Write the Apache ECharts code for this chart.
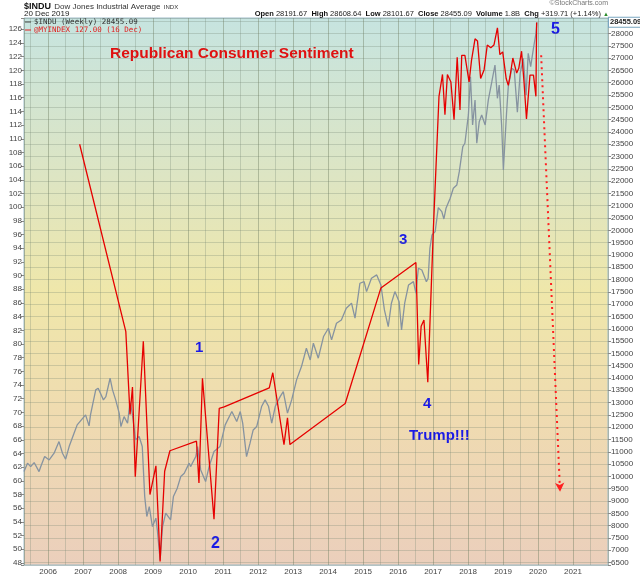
<!DOCTYPE html>
<html><head><meta charset="utf-8">
<script src="https://cdn.jsdelivr.net/npm/echarts@6/dist/echarts.min.js"></script>
<style>html,body{margin:0;padding:0;background:#fff}#c{width:640px;height:576px}</style>
</head><body><div id="c"></div>
<script>
// DJIA weekly (approximate readings), decimal years
const djiaDates = [2005.31,2005.41,2005.50,2005.60,2005.74,2005.79,2005.90,2006.03,2006.17,2006.31,2006.41,2006.50,2006.60,2006.74,2006.83,2007.07,2007.17,2007.21,2007.36,2007.43,2007.58,2007.65,2007.77,2007.84,2007.93,2008.03,2008.08,2008.17,2008.27,2008.34,2008.41,2008.50,2008.60,2008.69,2008.76,2008.82,2008.89,2008.98,2009.08,2009.12,2009.20,2009.27,2009.36,2009.50,2009.58,2009.69,2009.79,2009.89,2010.03,2010.07,2010.22,2010.27,2010.36,2010.50,2010.60,2010.74,2010.91,2011.06,2011.25,2011.39,2011.49,2011.56,2011.67,2011.77,2011.86,2011.96,2012.10,2012.20,2012.30,2012.39,2012.49,2012.63,2012.72,2012.84,2012.96,2013.10,2013.24,2013.38,2013.49,2013.58,2013.72,2013.87,2014.01,2014.10,2014.24,2014.38,2014.52,2014.67,2014.77,2014.91,2015.03,2015.10,2015.24,2015.39,2015.51,2015.61,2015.72,2015.81,2015.91,2016.03,2016.10,2016.19,2016.30,2016.44,2016.51,2016.58,2016.68,2016.81,2016.86,2016.91,2016.97,2017.06,2017.15,2017.25,2017.31,2017.37,2017.49,2017.58,2017.68,2017.75,2017.85,2017.91,2018.01,2018.07,2018.13,2018.20,2018.25,2018.32,2018.39,2018.49,2018.58,2018.68,2018.77,2018.84,2018.89,2018.96,2019.01,2019.10,2019.15,2019.25,2019.32,2019.41,2019.49,2019.58,2019.66,2019.72,2019.79,2019.87,2019.94,2019.97];
const djiaClose = [10197,10540,10400,10563,10197,10400,10807,10670,10943,11415,10943,10700,11213,11757,12094,12500,12054,12500,13516,13584,13110,13244,13990,13516,13110,12570,12026,12431,12163,13040,12500,11485,11620,11213,9180,8370,8775,7963,8305,7830,6610,7963,8508,8235,9180,9523,9995,10130,10540,10400,10807,11213,10265,9790,10400,11010,11213,12094,12635,12229,12635,12163,10807,11350,11890,12026,12840,13110,12840,12163,12840,13244,13448,12570,13110,13923,14463,15210,14734,15413,14804,15685,16023,15548,16226,16360,16836,17040,16430,17850,17915,17510,18055,18190,17780,16766,16090,17040,17510,17100,15955,17040,17780,17915,17445,18460,18390,17915,18055,19273,19813,19948,20923,20760,20463,20897,21305,21711,21845,22386,23400,23540,24690,26245,24283,25300,23540,24417,24690,24283,25300,26042,26720,25367,25908,24283,22455,24758,25839,26586,26517,24800,26383,26993,25500,27195,26650,27400,28000,28455.09];
// Republican consumer sentiment (approximate readings)
const sentDates = [2006.90,2008.22,2008.34,2008.41,2008.49,2008.72,2008.91,2009.08,2009.20,2009.33,2009.48,2010.24,2010.31,2010.41,2010.74,2010.89,2011.03,2012.32,2012.42,2012.74,2012.84,2012.91,2014.49,2015.51,2016.51,2016.59,2016.66,2016.74,2016.85,2017.01,2017.17,2017.27,2017.34,2017.41,2017.51,2017.60,2017.69,2017.77,2017.82,2017.91,2018.03,2018.10,2018.20,2018.27,2018.36,2018.46,2018.55,2018.65,2018.74,2018.84,2018.91,2018.99,2019.09,2019.15,2019.20,2019.28,2019.39,2019.45,2019.53,2019.60,2019.67,2019.77,2019.87,2019.94,2019.96];
const sentValues = [109.2,81.8,69.7,73.7,60.6,80.4,58.0,62.2,48.2,61.4,64.4,65.8,59.7,75.0,54.4,70.6,70.8,73.6,75.8,65.3,69.2,65.3,71.3,88.2,91.9,77.0,82.6,83.5,74.4,96.9,116.2,119.4,113.5,119.4,118.3,112.8,121.9,114.2,122.2,122.2,118.3,121.5,124.6,124.3,118.8,120.1,123.7,123.3,123.7,126.2,122.3,122.7,118.8,117.8,119.1,121.8,119.6,120.3,122.8,118.3,112.9,119.3,119.3,116.2,127.0];
// projected drop arrow (sentiment units)
const arrowFrom = [2020.09, 122.2];
const arrowTo = [2020.63, 58.4];
const yearLabels = [2006,2007,2008,2009,2010,2011,2012,2013,2014,2015,2016,2017,2018,2019,2020,2021];
const lastClose = 28455.09;

const djiaName = '$INDU (Weekly) 28455.09';
const sentName = '@MYINDEX 127.00 (16 Dec)';

const chart = echarts.init(document.getElementById('c'));
const axisFont = {fontSize: 8, color: '#444', fontFamily: 'Liberation Sans'};
const gridCol = 'rgba(110,130,110,0.28)';

chart.setOption({
  animation: false,
  backgroundColor: '#fff',
  grid: {
    left: 24, right: 32, top: 18, bottom: 11, show: true,
    borderColor: '#9fbccb', borderWidth: 1,
    backgroundColor: new echarts.graphic.LinearGradient(0, 0, 0, 1, [
      {offset: 0, color: '#c6e4e0'},
      {offset: 0.3, color: '#dee5c2'},
      {offset: 0.5, color: '#efe7aa'},
      {offset: 0.75, color: '#efdab1'},
      {offset: 1, color: '#ebcfbc'}
    ])
  },
  legend: {
    orient: 'vertical', left: 25, top: 18, padding: 0, itemWidth: 6, itemHeight: 1, itemGap: 0,
    icon: 'rect', selectedMode: false,
    textStyle: {fontSize: 7.5, lineHeight: 7, fontFamily: 'DejaVu Sans Mono', color: '#333', padding: [0,0,0,-2]},
    data: [{name: djiaName, itemStyle:{color:'#444'}}, {name: sentName, textStyle: {color: '#e02020'}, itemStyle:{color:'#e02020'}}]
  },
  xAxis: {
    type: 'value', min: 2005.31, max: 2022, minInterval: 1, maxInterval: 1, splitNumber: 17,
    axisLine: {show: false}, axisTick: {show: false},
    axisLabel: Object.assign({margin: 3, formatter: v => yearLabels.indexOf(v) >= 0 ? String(v) : ''}, axisFont),
    splitLine: {show: true, lineStyle: {color: 'rgba(110,125,95,0.42)', width: 1}},
    minorTick: {show: false, splitNumber: 2},
    minorSplitLine: {show: true, lineStyle: {color: gridCol, width: 1}}
  },
  yAxis: [
    {
      type: 'value', min: 47.7, max: 127.65, minInterval: 2, maxInterval: 2, splitNumber: 40, position: 'left',
      axisLine: {show: false}, axisTick: {show: true, length: 3, lineStyle: {color: '#888'}},
      axisLabel: Object.assign({margin: 2, formatter: v => (Math.abs(v % 2) < 1e-6 ? String(v) : '')}, axisFont),
      splitLine: {show: false}
    },
    {
      type: 'value', min: 6400, max: 28630, minInterval: 500, maxInterval: 500, splitNumber: 44, position: 'right',
      axisLine: {show: false}, axisTick: {show: true, length: 3, lineStyle: {color: '#888'}},
      axisLabel: Object.assign({margin: 3, formatter: v => (v % 500 === 0 && v < 28500 ? String(v) : '')}, axisFont),
      splitLine: {show: true, lineStyle: {color: gridCol}}
    }
  ],
  series: [
    {
      name: djiaName, type: 'line', yAxisIndex: 1, symbol: 'none',
      data: djiaDates.map((d, i) => [d, djiaClose[i]]),
      lineStyle: {color: '#8693a0', width: 1.3}, itemStyle: {color: '#444'}, z: 2,
      markLine: {
        silent: true, symbol: 'none', lineStyle: {color: 'rgba(0,0,0,0)', width: 0},
        label: {show: true, position: 'end', distance: 1, formatter: () => lastClose.toFixed(2),
          fontSize: 7.5, fontWeight: 'bold', color: '#222', backgroundColor: '#fff', borderColor: '#7aa6c0', borderWidth: 1,
          padding: [1, 1, 0, 1], fontFamily: 'Liberation Sans'},
        data: [{yAxis: lastClose}]
      }
    },
    {
      name: sentName, type: 'line', yAxisIndex: 0, symbol: 'none',
      data: sentDates.map((d, i) => [d, sentValues[i]]),
      lineStyle: {color: '#e60000', width: 1.3}, itemStyle: {color: '#e02020'}, z: 3,
      markLine: {
        silent: true, symbol: ['none', 'arrow'], symbolSize: [7, 9],
        lineStyle: {color: '#ff2020', type: [2, 4], width: 2},
        label: {show: false},
        data: [[{coord: arrowFrom}, {coord: arrowTo}]]
      }
    }
  ],
  graphic: [
    {type: 'text', left: 24, top: 1, style: {
      text: '{a|$INDU} {b|Dow Jones Industrial Average} {c|INDX}',
      rich: {a: {font: 'bold 9px Liberation Sans', fill: '#111'}, b: {font: '8px Liberation Sans', fill: '#333'}, c: {font: '6px Liberation Sans', fill: '#333'}}}},
    {type: 'text', left: 24, top: 10, style: {text: '20 Dec 2019', font: '8px Liberation Sans', fill: '#222'}},
    {type: 'text', right: 32, top: 0, style: {text: '©StockCharts.com', font: '7px Liberation Sans', fill: '#777'}},
    {type: 'text', right: 31, top: 10, style: {
      text: '{k|Open} 28191.67  {k|High} 28608.64  {k|Low} 28101.67  {k|Close} 28455.09  {k|Volume} 1.8B  {k|Chg} +319.71 (+1.14%) {g|▲}',
      font: '7.5px Liberation Sans', fill: '#222',
      rich: {k: {font: 'bold 7.5px Liberation Sans', fill: '#111'}, g: {font: '6px Liberation Sans', fill: '#2a8a2a'}}}},
    {type: 'text', left: 110, top: 46, style: {text: 'Republican Consumer Sentiment', font: 'bold 15.5px Liberation Sans', fill: '#e01010'}},
    {type: 'text', left: 195, top: 340, style: {text: '1', font: 'bold 15px Liberation Sans', fill: '#1a1ae6'}},
    {type: 'text', left: 211, top: 536, style: {text: '2', font: 'bold 16px Liberation Sans', fill: '#1a1ae6'}},
    {type: 'text', left: 399, top: 232, style: {text: '3', font: 'bold 15px Liberation Sans', fill: '#1a1ae6'}},
    {type: 'text', left: 423, top: 396, style: {text: '4', font: 'bold 15px Liberation Sans', fill: '#1a1ae6'}},
    {type: 'text', left: 409, top: 428, style: {text: 'Trump!!!', font: 'bold 15px Liberation Sans', fill: '#1a1ae6'}},
    {type: 'text', left: 551, top: 22, style: {text: '5', font: 'bold 16px Liberation Sans', fill: '#1a1ae6'}}
  ]
});
</script></body></html>
